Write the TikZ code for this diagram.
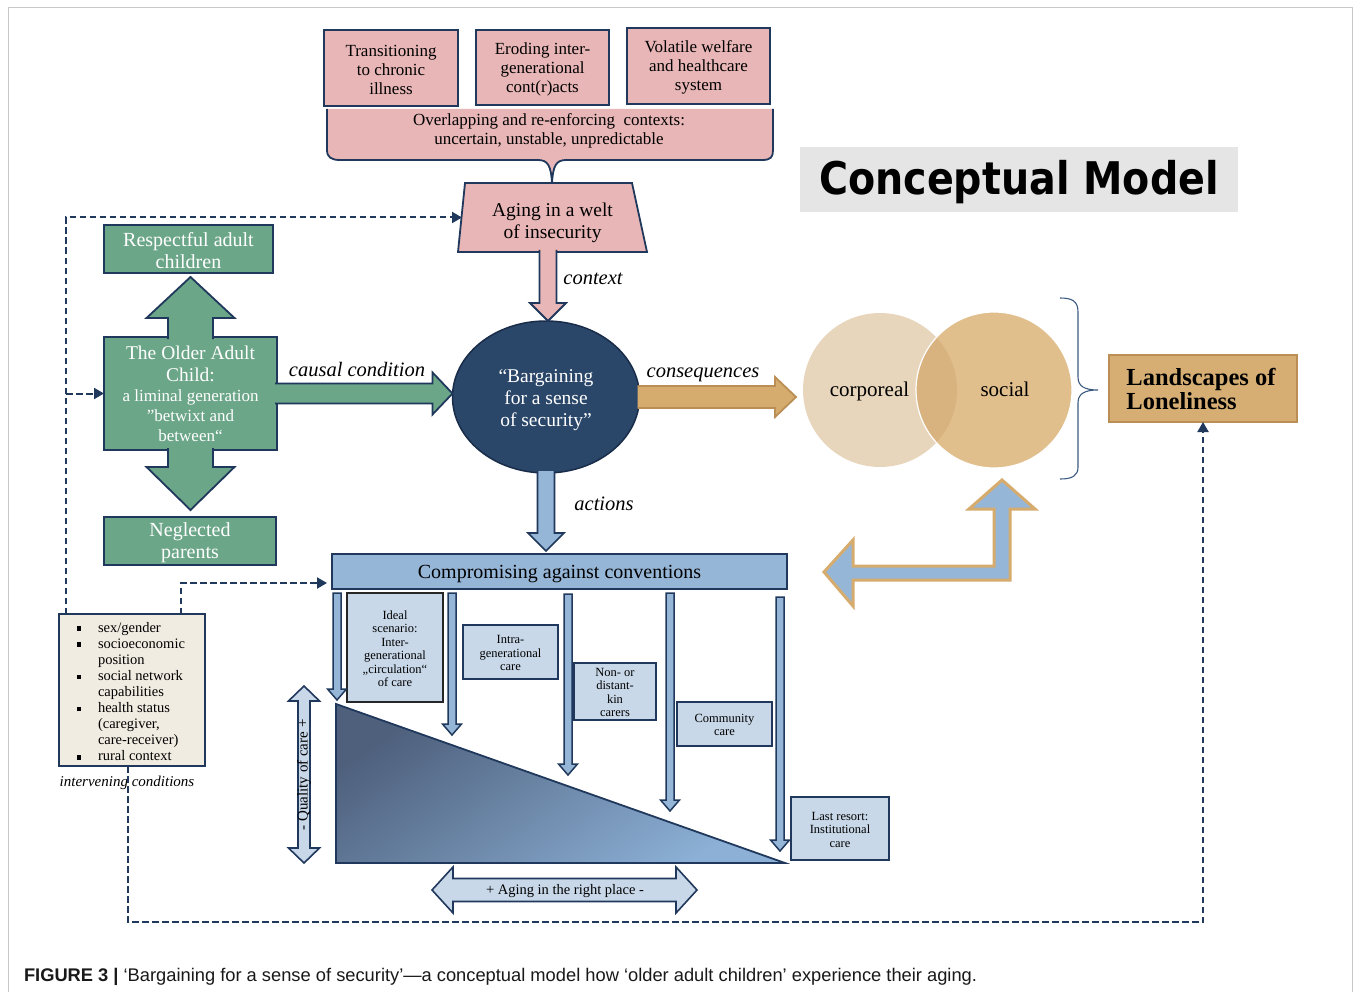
\documentclass[tikz,border=0pt]{standalone}
\usepackage{fontspec}
\usepackage{graphicx}
\setmainfont{Liberation Serif}
\setsansfont{Liberation Sans}
\newfontfamily\headfont{DejaVu Sans}
\usetikzlibrary{calc,shapes.geometric,arrows.meta}

\definecolor{navy}{RGB}{31,56,92}
\definecolor{pinkfill}{RGB}{232,182,182}
\definecolor{greenfill}{RGB}{108,166,136}
\definecolor{ovalfill}{RGB}{42,70,104}
\definecolor{tanfill}{RGB}{214,172,110}
\definecolor{tanline}{RGB}{186,142,84}
\definecolor{landfill}{RGB}{214,174,116}
\definecolor{corpfill}{RGB}{232,214,188}
\definecolor{socfill}{RGB}{224,191,141}
\definecolor{overlapfill}{RGB}{216,179,128}
\definecolor{midblue}{RGB}{150,182,215}
\definecolor{paleblue}{RGB}{200,216,233}
\definecolor{beige}{RGB}{241,236,226}
\definecolor{titlegray}{RGB}{229,229,229}
\definecolor{framegray}{RGB}{200,200,200}
\definecolor{triDark}{RGB}{78,96,124}
\definecolor{triLight}{RGB}{140,176,214}
\definecolor{bracecol}{RGB}{60,90,128}

% vertical block arrow: start, tip, shaft half width, head half width, head length, style, closing
\newcommand{\vblockarrow}[7]{%
  \draw[#6] let \p1=(#1), \p2=(#2), \n1={sign((\y1)-(\y2))} in
    (\x2-#3,\y1) -- (\x2-#3,\y2+\n1*#5) -- (\x2-#4,\y2+\n1*#5) -- (\x2,\y2)
    -- (\x2+#4,\y2+\n1*#5) -- (\x2+#3,\y2+\n1*#5) -- (\x2+#3,\y1) #7;}
% horizontal block arrow: start, tip, shaft half width, head half width, head length, style, closing
\newcommand{\hblockarrow}[7]{%
  \draw[#6] let \p1=(#1), \p2=(#2), \n1={sign((\x1)-(\x2))} in
    (\x1,\y2+#3) -- (\x2+\n1*#5,\y2+#3) -- (\x2+\n1*#5,\y2+#4) -- (\x2,\y2)
    -- (\x2+\n1*#5,\y2-#4) -- (\x2+\n1*#5,\y2-#3) -- (\x1,\y2-#3) #7;}

\begin{document}
\begin{tikzpicture}[x=1pt,y=-1pt,
  every node/.style={inner sep=0pt, outer sep=0pt},
  pinkbox/.style={draw=navy, line width=1.8pt, fill=pinkfill},
  pinktext/.style={align=center, font=\fontsize{17}{19}\selectfont, yshift=-1.5pt},
  greenbox/.style={draw=navy, line width=1.8pt, fill=greenfill},
  greentext/.style={align=center, text=white, font=\fontsize{20}{22}\selectfont, yshift=-1.5pt},
  greenarrow/.style={draw=navy, line width=1.8pt, fill=greenfill, line join=miter},
  bluebox/.style={draw=navy, line width=1.6pt, fill=paleblue},
  bluetext/.style={align=center, font=\fontsize{12.5}{13.5}\selectfont, yshift=-1pt},
  bluearrow/.style={draw=navy, line width=1.6pt, fill=midblue, line join=miter},
  thinarrow/.style={draw=navy, line width=1.5pt, fill=midblue, line join=miter},
  flowlabel/.style={font=\itshape\fontsize{20.5}{22}\selectfont, anchor=base},
  dashedlink/.style={draw=navy, line width=2pt, dash pattern=on 6.5pt off 3.5pt, -{Triangle[length=10pt,width=11pt]}},
]
\useasboundingbox (0,0) rectangle (1356,992);
\fill[white] (0,0) rectangle (1356,992);
% figure frame
\draw[framegray, line width=1pt] (8,992) -- (8,8) -- (1352,8) -- (1352,992);

% ---------- contexts ----------
\node[pinkbox, minimum width=134pt, minimum height=76pt] (chronic) at (391,68) {};
\node[pinktext] (chronictext) at (chronic) {Transitioning\\to chronic\\illness};
\node[pinkbox, minimum width=133pt, minimum height=75pt] (eroding) at (542.5,67.5) {};
\node[pinktext] (erodingtext) at (eroding) {Eroding inter-\\generational\\cont(r)acts};
\node[pinkbox, minimum width=143pt, minimum height=76pt] (volatile) at (698.5,66) {};
\node[pinktext] (volatiletext) at (volatile) {Volatile welfare\\and healthcare\\system};

\draw[navy, line width=1.8pt, fill=pinkfill] (327,109) -- (327,150)
  .. controls (327,157) and (331,160) .. (340,160) -- (538,160)
  .. controls (548,160) and (551,166) .. (552,183)
  .. controls (553,166) and (556,160) .. (566,160) -- (762,160)
  .. controls (771,160) and (773,157) .. (773,150) -- (773,109);
\node[align=center, font=\fontsize{17}{19}\selectfont] (overlap) at (549,131)
  {Overlapping and re-enforcing\ \ contexts:\\uncertain, unstable, unpredictable};

% trapezium
\node[minimum width=189pt, minimum height=69pt] (welt) at (552.5,217.5) {};
\draw[navy, line width=1.8pt, fill=pinkfill] ($(welt.north west)+(7,0)$) -- ($(welt.north east)+(-15,0)$)
  -- (welt.south east) -- (welt.south west) -- cycle;
\node[align=center, font=\fontsize{19.5}{22}\selectfont] (welttext) at (552.5,223) {Aging in a welt\\of insecurity};

% title
\node[fill=titlegray, minimum width=438pt, minimum height=65pt] (title) at (1019,179.5) {};
\node[font=\headfont\bfseries\fontsize{45}{50}\selectfont, yshift=-3pt] (titletext) at (title)
  {\scalebox{0.88}[1]{Conceptual Model}};

% ---------- core ----------
\node[ellipse, draw=navy!80!black, line width=1.5pt, fill=ovalfill, minimum width=187pt, minimum height=152pt] (bargain) at (546,397) {};
\node[align=center, text=white, font=\fontsize{19.5}{22}\selectfont, yshift=-3pt] (bargaintext) at (bargain)
  {“Bargaining\\for a sense\\of security”};

\vblockarrow{$(welt.south)+(0,-2)$}{$(bargain.north)+(2,0)$}{8.5pt}{18pt}{18pt}{draw=navy, line width=1.8pt, fill=pinkfill, line join=miter}{}
\node[flowlabel] (contextlbl) at (593,284) {context};

% ---------- causal condition ----------
\node[greenbox, minimum width=169pt, minimum height=48pt] (respect) at (188.5,249) {};
\node[greentext] (respecttext) at (respect) {Respectful adult\\children};
\node[greenbox, minimum width=172pt, minimum height=48pt] (neglect) at (190,541) {};
\node[greentext] (neglecttext) at (neglect) {Neglected\\parents};
\node[greenbox, minimum width=173pt, minimum height=113pt] (olderchild) at (190.5,393.5) {};
\vblockarrow{$(olderchild.north)+(0,2)$}{$(olderchild.north |- respect.south)+(0,4)$}{22.5pt}{44pt}{41pt}{greenarrow}{}
\vblockarrow{$(olderchild.south)+(0,-2)$}{$(olderchild.south |- neglect.north)+(0,-7)$}{22.5pt}{44pt}{43pt}{greenarrow}{}
\hblockarrow{$(olderchild.east)+(-2,0)$}{bargain.west |- olderchild.east}{10pt}{21pt}{20pt}{greenarrow}{}
\node[align=center, text=white, font=\fontsize{19.5}{22}\selectfont] (oc1) at (190.5,364) {The Older Adult\\Child:};
\node[align=center, text=white, font=\fontsize{17}{20}\selectfont] (oc2) at (190.5,416) {a liminal generation\\”betwixt and\\between“};
\node[flowlabel] (causallbl) at (357,376) {causal condition};

% ---------- consequences ----------
\node[circle, fill=corpfill, minimum size=154pt] (corp) at (880,390) {};
\node[circle, fill=socfill, minimum size=156pt] (soc) at (994,390) {};
\begin{scope}
  \clip (corp.center) circle (77pt);
  \fill[overlapfill] (soc.center) circle (78pt);
\end{scope}
\draw[white, line width=1.2pt] (soc.center) circle (78pt);
\node[font=\fontsize{21}{24}\selectfont, anchor=base] (corplbl) at (869.5,396) {corporeal};
\node[font=\fontsize{21}{24}\selectfont, anchor=base] (soclbl) at (1005,396) {social};

\hblockarrow{$(bargain.east)+(-2,0)$}{$(bargain.east -| corp.west)+(-7,0)$}{11pt}{20pt}{21pt}{draw=tanline, line width=1.8pt, fill=tanfill, line join=miter}{}
\node[flowlabel] (conslbl) at (703,377) {consequences};

\draw[bracecol, line width=1.1pt] (1060,298) .. controls (1072,298) and (1078,301) .. (1078,312) -- (1078,377)
  .. controls (1078,386) and (1084,390) .. (1098,390)
  .. controls (1084,390) and (1078,394) .. (1078,403) -- (1078,467)
  .. controls (1078,476) and (1072,479) .. (1060,479);

\node[draw=tanline, line width=2pt, fill=landfill, minimum width=188pt, minimum height=67pt] (landscape) at (1203,388.5) {};
\node[align=left, font=\bfseries\fontsize{24.5}{24}\selectfont] (landtext) at (1201,388.5) {Landscapes of\\Loneliness};

% ---------- actions ----------
\node[draw=navy, line width=1.6pt, fill=midblue, minimum width=455pt, minimum height=35pt] (compromise) at (559.5,571.5) {};
\node[font=\fontsize{20}{22}\selectfont, anchor=base] (compromisetext) at (559.5,578.5) {Compromising against conventions};
\vblockarrow{$(bargain.south)+(0,-2)$}{$(bargain.south |- compromise.north)+(0,-3)$}{8.5pt}{18pt}{18pt}{bluearrow}{}
\node[flowlabel] (actionslbl) at (604,510) {actions};

% quality triangle
\shade[draw=navy, line width=1.8pt, top color=triDark, bottom color=triLight, shading angle=35]
  (336,704) -- (336,863) -- (785,863) -- cycle;

\node[bluebox, draw=black!85, line width=2pt, minimum width=96pt, minimum height=109pt] (ideal) at (395,647.5) {};
\node[bluetext] (idealtext) at (ideal) {Ideal\\scenario:\\Inter-\\generational\\„circulation“\\of care};
\node[bluebox, minimum width=95pt, minimum height=54pt] (intra) at (510.5,652) {};
\node[bluetext] (intratext) at (intra) {Intra-\\generational\\care};
\node[bluebox, minimum width=82pt, minimum height=57pt] (nonkin) at (615,691.5) {};
\node[bluetext] (nonkintext) at (nonkin) {Non- or\\distant-\\kin\\carers};
\node[bluebox, minimum width=95pt, minimum height=44pt] (community) at (724.5,724) {};
\node[bluetext] (communitytext) at (community) {Community\\care};
\node[bluebox, minimum width=98pt, minimum height=63pt] (lastresort) at (840,828.5) {};
\node[bluetext] (lastresorttext) at (lastresort) {Last resort:\\Institutional\\care};

\coordinate (s1) at (337,593); \coordinate (t1) at (337,700);
\coordinate (s2) at (452,593); \coordinate (t2) at (452,735);
\coordinate (s3) at (568,594); \coordinate (t3) at (568,775);
\coordinate (s4) at (670,593); \coordinate (t4) at (670,811);
\coordinate (s5) at (780,597); \coordinate (t5) at (780,851);
\foreach \i in {1,...,5} {
  \vblockarrow{s\i}{t\i}{4pt}{9.5pt}{11pt}{thinarrow}{-- cycle}
}

% quality of care axis
\draw[bluearrow, fill=paleblue] (298,701) -- (288.5,701) -- (304,686) -- (319.5,701) -- (310,701) -- (310,848)
  -- (319.5,848) -- (304,863) -- (288.5,848) -- (298,848) -- cycle;
\node[rotate=90, font=\fontsize{15}{17}\selectfont, anchor=base] (quality) at (307.5,775) {- Quality of care +};

% aging in the right place axis
\draw[bluearrow, fill=paleblue] (453,878.5) -- (676,878.5) -- (676,867) -- (697,890) -- (676,913) -- (676,901.5)
  -- (453,901.5) -- (453,913) -- (432,890) -- (453,867) -- cycle;
\node[font=\fontsize{14.5}{16}\selectfont, anchor=base] (rightplace) at (565,894.5) {+ Aging in the right place -};

% feedback arrow between actions and consequences
\draw[draw=tanfill, line width=3pt, fill=midblue, line join=miter]
  (824,572) -- (853,540) -- (853,566) -- (994,566) -- (994,509) -- (969,509) -- (1002,480)
  -- (1035,509) -- (1010,509) -- (1010,580) -- (853,580) -- (853,606) -- cycle;

% ---------- intervening conditions ----------
\node[draw=navy, line width=1.8pt, fill=beige, minimum width=146pt, minimum height=152pt] (interv) at (132,690) {};
\node[anchor=north west, align=left, font=\fontsize{14.5}{16.1}\selectfont] (intervlist) at (98,622)
  {\llap{\rule[1.2pt]{4.5pt}{4.5pt}\hspace{17pt}}sex/gender\\
   \llap{\rule[1.2pt]{4.5pt}{4.5pt}\hspace{17pt}}socioeconomic\\
   position\\
   \llap{\rule[1.2pt]{4.5pt}{4.5pt}\hspace{17pt}}social network\\
   capabilities\\
   \llap{\rule[1.2pt]{4.5pt}{4.5pt}\hspace{17pt}}health status\\
   (caregiver,\\
   care-receiver)\\
   \llap{\rule[1.2pt]{4.5pt}{4.5pt}\hspace{17pt}}rural context};
\node[font=\itshape\fontsize{15}{17}\selectfont, anchor=base] (intervlbl) at (127,786) {intervening conditions};

% dashed links of the intervening conditions
\coordinate (ivtop) at ($(interv.north west)+(7,0)$);
\draw[dashedlink] (ivtop) |- ($(welt.west)+(4,0)$);
\draw[dashedlink] (ivtop |- olderchild.west) -- (olderchild.west);
\draw[dashedlink] ($(interv.north west)+(122,0)$) |- ($(compromise.south west)+(-5,-6)$);
\draw[dashedlink] ($(interv.south)+(-4,0)$) -- ++(0,156) -| (landscape.south);

% ---------- caption ----------
\node[anchor=base west, font=\sffamily\fontsize{18.3}{20}\selectfont, text=black!90] (caption) at (24,981)
  {\textbf{FIGURE 3 |} ‘Bargaining for a sense of security’—a conceptual model how ‘older adult children’ experience their aging.};
\end{tikzpicture}
\end{document}
